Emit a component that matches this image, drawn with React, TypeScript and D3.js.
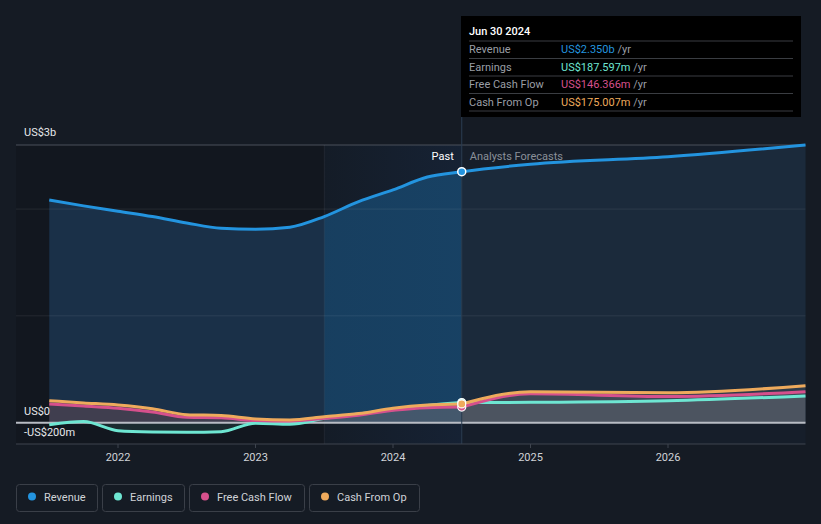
import React from "react";
import * as d3 from "d3";

const pastDates = [2021.5, 2021.75, 2022.0, 2022.25, 2022.5, 2022.75, 2023.0, 2023.25, 2023.5, 2023.75, 2024.0, 2024.25, 2024.5];
const pastRevenue = [2.085, 2.03, 1.98, 1.93, 1.87, 1.82, 1.81, 1.83, 1.93, 2.07, 2.18, 2.3, 2.35];
const pastEarnings = [-0.02, 0.01, -0.075, -0.087, -0.09, -0.085, -0.005, -0.015, 0.04, 0.08, 0.12, 0.16, 0.1876];
const pastFCF = [0.175, 0.155, 0.135, 0.1, 0.05, 0.045, 0.02, 0.015, 0.04, 0.07, 0.115, 0.14, 0.146];
const pastCFO = [0.206, 0.185, 0.165, 0.13, 0.075, 0.066, 0.035, 0.025, 0.055, 0.085, 0.135, 0.165, 0.175];

const fcDates = [2024.5, 2025.0, 2026.0, 2027.0];
const fcRevenue = [2.35, 2.42, 2.49, 2.6];
const fcEarnings = [0.1876, 0.19, 0.205, 0.25];
const fcFCF = [0.146, 0.27, 0.245, 0.29];
const fcCFO = [0.175, 0.29, 0.28, 0.345];

const xTicks = [2022, 2023, 2024, 2025, 2026];
const highlightStart = 2023.5;
const nowDate = 2024.5;

const tooltipTitle = "Jun 30 2024";
const tooltipRows = [
  { label: "Revenue", value: "US$2.350b", color: "#2394df" },
  { label: "Earnings", value: "US$187.597m", color: "#6ee6d2" },
  { label: "Free Cash Flow", value: "US$146.366m", color: "#d6508c" },
  { label: "Cash From Op", value: "US$175.007m", color: "#eeaa5c" },
];

const legendItems = [
  { label: "Revenue", color: "#2394df", w: 81 },
  { label: "Earnings", color: "#6ee6d2", w: 82 },
  { label: "Free Cash Flow", color: "#d6508c", w: 115 },
  { label: "Cash From Op", color: "#eeaa5c", w: 110 },
];

const FONT = "Roboto, 'Noto Sans', sans-serif";

export default function App() {
  const W = 821, H = 524;
  const x = d3.scaleLinear().domain([2022, 2026]).range([118, 668]);
  const y = d3.scaleLinear().domain([-0.2, 2.6]).range([444, 145]);
  const y0 = y(0);

  const mk = (dates: number[], vals: number[]) => dates.map((d, i) => [d, vals[i]] as [number, number]);
  const line = d3.line<[number, number]>().x(d => x(d[0])).y(d => y(d[1])).curve(d3.curveMonotoneX);
  const area = d3.area<[number, number]>().x(d => x(d[0])).y0(y0).y1(d => y(d[1])).curve(d3.curveMonotoneX);

  const rev = [...mk(pastDates, pastRevenue), ...mk(fcDates, fcRevenue).slice(1)];
  const series = [
    { past: mk(pastDates, pastEarnings), fc: mk(fcDates, fcEarnings), color: "#6ee6d2" },
    { past: mk(pastDates, pastFCF), fc: mk(fcDates, fcFCF), color: "#d6508c" },
    { past: mk(pastDates, pastCFO), fc: mk(fcDates, fcCFO), color: "#eeaa5c" },
  ];

  const xH = x(highlightStart);
  const xN = x(nowDate);
  const xR = x(fcDates[fcDates.length - 1]);
  const top = y(2.6);
  const bottom = y(-0.2);

  let lx = 16;
  const legendPos = legendItems.map(it => { const p = lx; lx += it.w + 5; return p; });

  return (
    <svg width={W} height={H} style={{ display: "block", position: "absolute", left: 0, top: 0, background: "#151b24" }} fontFamily={FONT}>
      <defs>
        <clipPath id="cLeft"><rect x={0} y={0} width={xH} height={H} /></clipPath>
        <clipPath id="cHi"><rect x={xH} y={0} width={xN - xH} height={H} /></clipPath>
        <clipPath id="cPast"><rect x={0} y={0} width={xN} height={H} /></clipPath>
        <clipPath id="cFc"><rect x={xN} y={0} width={W} height={H} /></clipPath>
        <linearGradient id="gHi" x1="0" x2="1" y1="0" y2="0">
          <stop offset="0" stopColor="#173a58" />
          <stop offset="1" stopColor="#18476d" />
        </linearGradient>
        <linearGradient id="gHiBg" x1="0" x2="1" y1="0" y2="0">
          <stop offset="0" stopColor="#141c27" />
          <stop offset="1" stopColor="#162234" />
        </linearGradient>
      </defs>
      <rect x={0} y={0} width={W} height={H} fill="#151b24" />
      <rect x={16} y={top} width={xH - 16} height={bottom - top} fill="#12171f" />
      <rect x={xH} y={top} width={xN - xH} height={bottom - top} fill="url(#gHiBg)" />
      <rect x={xN} y={top} width={xR - xN} height={bottom - top} fill="#161e2a" />

      <path d={area(rev) || ""} fill="#1a3048" clipPath="url(#cLeft)" />
      <path d={area(rev) || ""} fill="url(#gHi)" clipPath="url(#cHi)" />
      <path d={area(rev) || ""} fill="#1b2a3b" clipPath="url(#cFc)" />

      <line x1={16} x2={xR} y1={y(2)} y2={y(2)} stroke="#ffffff" strokeOpacity={0.08} />
      <line x1={16} x2={xR} y1={y(1)} y2={y(1)} stroke="#ffffff" strokeOpacity={0.08} />
      <line x1={16} x2={xR} y1={top} y2={top} stroke="#4a505a" />
      <line x1={xH} x2={xH} y1={top} y2={bottom} stroke="#ffffff" strokeOpacity={0.06} />

      {series.map((s, i) => (
        <g key={"a" + i}>
          <path d={area(s.past) || ""} fill={s.color} fillOpacity={0.1} clipPath="url(#cPast)" />
          <path d={area(s.fc) || ""} fill="#8a8c92" fillOpacity={0.18} />
        </g>
      ))}

      <line x1={16} x2={xR} y1={y0} y2={y0} stroke="#b8bcc4" strokeWidth={2} />

      {series.map((s, i) => (
        <g key={"l" + i}>
          <path d={line(s.past) || ""} fill="none" stroke={s.color} strokeWidth={3} />
          <path d={line(s.fc) || ""} fill="none" stroke={s.color} strokeWidth={3} />
        </g>
      ))}
      <path d={line(rev) || ""} fill="none" stroke="#2394df" strokeWidth={3} />

      <line x1={xN} x2={xN} y1={16} y2={bottom} stroke="#2b3e52" strokeWidth={1} />

      {series.map((s, i) => (
        <circle key={"m" + i} cx={xN} cy={y(s.past[s.past.length - 1][1])} r={4} fill={s.color} stroke="#ffffff" strokeWidth={1.2} />
      ))}
      <circle cx={xN} cy={y(2.35)} r={4} fill="#2394df" stroke="#ffffff" strokeWidth={1.5} />

      <line x1={16} x2={xR} y1={bottom} y2={bottom} stroke="#3e444e" strokeWidth={1} />
      {xTicks.map(t => (
        <g key={t}>
          <line x1={x(t)} x2={x(t)} y1={bottom} y2={bottom + 4} stroke="#3e444e" />
          <text x={x(t)} y={461} fill="#d0d3d8" fontSize={11} textAnchor="middle">{t}</text>
        </g>
      ))}

      <text x={24} y={136} fill="#e6e8eb" fontSize={11}>US$3b</text>
      <text x={24} y={415} fill="#e6e8eb" fontSize={11}>US$0</text>
      <text x={24} y={436} fill="#e6e8eb" fontSize={11}>-US$200m</text>

      <text x={xN - 8} y={160} fill="#ffffff" fontSize={11} textAnchor="end">Past</text>
      <text x={xN + 8} y={160} fill="#8a9099" fontSize={11}>Analysts Forecasts</text>

      <g>
        <rect x={461} y={16} width={340} height={101} fill="#000000" />
        <text x={469} y={35} fill="#ffffff" fontSize={11} fontWeight={500}>{tooltipTitle}</text>
        {tooltipRows.map((r, i) => {
          const ry = 41 + i * 17.5;
          return (
            <g key={r.label}>
              <line x1={469} x2={793} y1={ry} y2={ry} stroke="#3a3d42" />
              <text x={469} y={ry + 12} fill="#9a9ea5" fontSize={11}>{r.label}</text>
              <text x={561} y={ry + 12} fontSize={11}>
                <tspan fill={r.color}>{r.value}</tspan>
                <tspan fill="#9a9ea5"> /yr</tspan>
              </text>
            </g>
          );
        })}
        <line x1={469} x2={793} y1={111} y2={111} stroke="#3a3d42" />
      </g>

      {legendItems.map((it, i) => (
        <g key={it.label} transform={`translate(${legendPos[i]},484)`}>
          <rect x={0.5} y={0.5} width={it.w} height={27} rx={3} fill="none" stroke="#3a3f48" />
          <circle cx={16} cy={12.5} r={4} fill={it.color} />
          <text x={28} y={16.5} fill="#d0d3d8" fontSize={11}>{it.label}</text>
        </g>
      ))}
    </svg>
  );
}
